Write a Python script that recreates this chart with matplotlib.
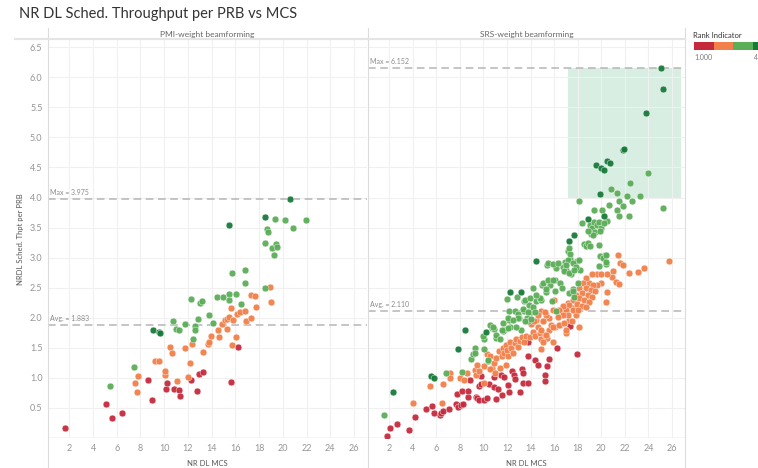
import matplotlib
matplotlib.use("Agg")
import matplotlib.pyplot as plt
from matplotlib.patches import Rectangle
from matplotlib.lines import Line2D

plt.rcParams['font.family'] = ['Lato', 'DejaVu Sans']

title = "NR DL Sched. Throughput per PRB vs MCS"
panels = ["PMI-weight beamforming", "SRS-weight beamforming"]
rank_labels = ["1.000", "4"]
rank_colors = ["#c42a3c", "#f2804a", "#5cad58", "#187a3a"]

# (MCS, throughput per PRB), per rank indicator
pmi_rank1 = [(1.61, 0.17), (5.06, 0.56), (5.6, 0.33), (6.44, 0.42), (8.66, 0.96), (8.94, 0.64),
             (10.12, 0.82), (10.26, 0.91), (10.82, 0.82), (11.27, 0.80), (11.33, 0.70), (12.25, 0.97),
             (12.73, 0.78), (12.96, 1.06), (13.24, 1.09), (15.62, 0.93), (16.24, 1.52)]
pmi_rank2 = [(7.51, 0.91), (7.73, 0.76), (7.81, 1.03), (9.22, 1.28), (9.58, 1.28), (10.03, 1.04),
             (10.08, 1.11), (10.51, 1.51), (10.62, 1.41), (11.04, 0.94), (11.78, 1.50), (12.0, 1.02),
             (12.2, 1.25), (12.37, 1.57), (13.24, 1.43), (13.71, 1.56), (13.8, 1.59), (13.94, 1.69),
             (14.5, 1.79), (14.64, 1.68), (14.84, 1.90), (15.12, 1.97), (15.29, 1.98), (15.46, 2.01),
             (15.26, 1.81), (15.62, 2.16), (15.68, 1.54), (15.76, 1.96), (16.02, 1.68), (16.13, 2.06),
             (16.35, 2.09), (16.83, 2.12), (16.89, 1.95), (17.28, 2.38), (17.28, 2.0), (17.67, 2.36),
             (17.73, 2.18), (18.88, 2.51), (18.97, 2.26)]
pmi_rank3 = [(5.43, 0.87), (7.48, 1.18), (10.76, 1.94), (10.99, 1.82), (11.21, 1.79), (11.72, 1.89),
             (12.22, 2.32), (12.42, 1.65), (12.56, 1.87), (12.59, 1.80), (12.81, 1.98), (12.98, 2.25),
             (13.18, 2.28), (13.74, 2.05), (14.08, 1.92), (14.47, 2.34), (14.92, 2.34), (15.43, 2.39),
             (15.46, 2.30), (15.71, 2.75), (16.04, 2.40), (16.44, 2.23), (16.80, 2.79), (16.83, 2.57),
             (18.49, 2.50), (18.54, 3.25), (18.63, 3.48), (18.74, 3.42), (19.08, 3.16), (19.42, 3.23),
             (19.47, 3.18), (19.27, 3.05), (19.30, 3.64), (20.17, 3.62), (21.97, 3.63), (20.82, 3.50)]
pmi_rank4 = [(9.05, 1.80), (9.56, 1.76), (9.67, 1.75), (15.48, 3.55), (18.46, 3.67), (20.62, 3.975)]

srs_rank1 = [(1.8, 0.04), (2.06, 0.17), (2.67, 0.23), (3.68, 0.14), (4.22, 0.35), (5.14, 0.49),
             (5.59, 0.54), (5.79, 0.41), (6.27, 0.39), (6.40, 0.41), (6.58, 0.45), (7.08, 0.49),
             (7.70, 0.57), (7.79, 0.73), (7.84, 0.52), (8.09, 0.55), (8.21, 0.79), (8.26, 0.56),
             (8.66, 0.69), (8.68, 0.79), (8.83, 0.96), (9.33, 0.69), (9.42, 0.66), (9.59, 0.87),
             (9.64, 0.64), (9.78, 0.90), (9.75, 1.03), (10.06, 0.64), (10.31, 0.66), (10.43, 0.89),
             (10.9, 1.01), (10.93, 0.85), (11.07, 0.65), (11.21, 0.81), (11.47, 1.04), (11.61, 0.72),
             (11.75, 1.02), (12.08, 0.88), (12.17, 0.76), (12.45, 1.12), (12.56, 1.05), (12.67, 0.98),
             (13.13, 0.77), (13.27, 1.15), (13.35, 1.08), (13.35, 0.91), (13.74, 1.60), (13.80, 0.91),
             (13.80, 1.36), (14.36, 1.30), (14.59, 1.22), (15.2, 1.05), (15.23, 0.95), (15.41, 1.20),
             (15.6, 1.31), (16.21, 1.50), (17.37, 1.87), (17.93, 1.40)]
srs_rank2 = [(4.02, 0.59), (5.45, 0.87), (6.45, 0.58), (6.55, 0.89), (7.2, 1.08), (7.2, 0.99),
             (8.01, 0.99), (8.57, 1.08), (8.32, 0.96), (9.3, 1.13), (9.36, 1.05), (9.42, 1.22),
             (10.03, 1.19), (10.03, 0.91), (10.26, 1.40), (10.54, 1.36), (10.71, 1.16), (10.9, 1.25),
             (11.1, 1.33), (11.32, 1.44), (11.55, 1.37), (11.66, 1.49), (11.78, 1.41), (11.89, 1.55),
             (12.0, 1.47), (12.12, 1.36), (12.23, 1.59), (12.34, 1.49), (12.5, 1.41), (12.67, 1.58),
             (12.79, 1.64), (12.96, 1.52), (13.07, 1.62), (13.3, 1.68), (13.47, 1.6), (13.63, 1.70),
             (13.91, 1.68), (14.08, 1.91), (14.19, 1.77), (14.36, 1.69), (14.48, 1.96), (14.65, 1.85),
             (14.81, 1.74), (14.92, 1.64), (15.09, 1.94), (15.26, 1.72), (15.43, 1.66), (15.6, 1.80),
             (15.77, 1.88), (16.1, 1.85), (16.38, 2.05), (16.5, 1.88), (16.72, 2.13), (17.0, 1.74),
             (17.17, 2.24), (17.23, 1.97), (17.56, 2.16), (17.85, 2.05), (14.9, 1.48), (15.04, 1.60),
             (15.88, 1.60), (9.59, 1.11), (10.54, 1.14), (11.38, 1.16), (11.95, 1.22), (10.96, 1.08),
             (21.44, 3.04), (21.62, 2.91), (21.87, 2.87), (22.34, 2.75), (23.08, 2.76), (21.0, 2.77),
             (20.94, 2.68), (20.51, 2.72), (21.22, 2.60), (21.5, 2.56), (20.51, 2.43), (20.4, 2.26),
             (19.67, 2.72), (19.98, 2.72), (19.96, 2.58), (19.67, 2.54), (19.17, 2.72), (18.97, 2.58),
             (19.31, 2.55), (18.74, 2.66), (18.41, 2.57), (18.69, 2.49), (19.12, 2.46), (19.48, 2.44),
             (18.13, 2.49), (18.36, 2.41), (18.83, 2.38), (19.25, 2.35), (17.85, 2.38), (18.13, 2.33),
             (18.55, 2.30), (18.97, 2.27), (17.56, 2.29), (17.9, 2.23), (18.36, 2.20), (18.69, 2.18),
             (17.28, 2.21), (17.56, 2.13), (17.99, 2.13), (17.0, 2.13), (17.14, 2.05), (16.72, 2.20),
             (16.44, 2.13), (16.72, 2.05), (16.3, 2.02), (15.88, 2.13), (16.02, 2.30), (15.6, 1.99),
             (15.32, 2.05), (15.04, 1.94), (15.88, 1.85), (16.44, 1.88), (16.86, 1.91), (17.51, 1.94),
             (18.13, 1.84), (17.0, 1.80), (15.32, 1.72), (14.9, 1.80), (25.72, 2.95), (23.61, 2.83),
             (14.9, 2.12), (15.2, 2.10), (14.05, 1.90), (14.6, 2.05), (14.3, 1.95)]
srs_rank3 = [(1.55, 0.39), (6.83, 1.08), (8.21, 1.10), (8.94, 1.31), (9.13, 1.39), (9.28, 1.50),
             (10.03, 1.48), (10.03, 1.64), (10.37, 1.28), (10.71, 1.83), (10.93, 1.82), (11.1, 1.67),
             (11.72, 1.79), (11.97, 2.31), (12.14, 1.97), (12.2, 2.12), (12.28, 1.84), (12.7, 2.12),
             (12.9, 2.07), (13.01, 2.00), (13.18, 1.80), (13.40, 2.11), (13.43, 2.28), (13.66, 2.00),
             (13.77, 1.95), (13.88, 2.22), (14.02, 2.10), (14.19, 2.49), (14.19, 2.18), (14.42, 2.28),
             (14.78, 2.31), (14.92, 2.29), (15.0, 2.55), (15.43, 2.88), (15.31, 2.43), (15.65, 2.54),
             (15.82, 2.28), (16.07, 2.63), (16.19, 2.83), (16.47, 2.58), (16.78, 2.84), (16.92, 2.92),
             (17.0, 2.79), (17.2, 3.11), (17.31, 2.98), (17.45, 2.73), (17.93, 2.95), (18.04, 2.58),
             (18.18, 2.80), (18.57, 3.22), (18.74, 3.19), (18.83, 3.24), (19.02, 3.20), (19.81, 3.21),
             (19.87, 3.02), (20.31, 3.05), (20.37, 2.90), (17.28, 2.41), (17.56, 2.48), (16.16, 2.12),
             (19.2, 3.41), (17.35, 3.06), (17.14, 2.96), (17.56, 2.91), (17.0, 2.88), (17.85, 2.85),
             (18.13, 2.96), (20.1, 2.99), (15.46, 2.91), (15.88, 2.90), (16.3, 2.91), (16.86, 2.78),
             (17.28, 2.74), (17.71, 2.80), (15.09, 2.57), (15.46, 2.63), (15.88, 2.62), (16.67, 2.49),
             (16.1, 2.45), (15.32, 2.48), (17.56, 2.44), (17.71, 2.35), (14.76, 2.33),
             (23.97, 4.40), (22.45, 4.24), (20.85, 4.14), (21.33, 4.08), (22.14, 4.03), (23.24, 4.03),
             (18.12, 3.95), (25.23, 3.83), (22.62, 3.95), (20.65, 3.88), (21.49, 3.94), (21.86, 3.86),
             (21.33, 3.79), (20.09, 3.80), (22.37, 3.70), (21.49, 3.69), (19.39, 3.79), (18.4, 3.57),
             (17.22, 3.16), (20.51, 3.61), (19.0, 3.55), (19.2, 3.5), (19.4, 3.6), (19.6, 3.55),
             (19.8, 3.6), (20.0, 3.5), (19.1, 3.4), (19.5, 3.42), (19.9, 3.45), (20.2, 3.58),
             (19.3, 3.38), (18.9, 3.45), (20.38, 3.05), (19.81, 2.86), (20.38, 2.92),
             (12.87, 2.34), (13.49, 2.29), (13.91, 2.33), (14.48, 2.38), (13.35, 2.14), (13.77, 2.10),
             (14.33, 2.10), (12.08, 1.99), (12.93, 1.99), (13.49, 1.94), (14.05, 1.98), (10.54, 1.88),
             (10.82, 1.85), (11.66, 1.78), (12.08, 1.83), (12.79, 1.85), (11.1, 1.72), (9.25, 1.42),
             (10.4, 1.30), (9.98, 1.69), (11.58, 1.79), (11.66, 1.91), (12.5, 1.96), (11.38, 1.64)]
srs_rank4 = [(2.28, 0.76), (5.57, 1.03), (5.76, 1.0), (7.81, 1.48), (8.46, 1.79), (10.23, 1.76),
             (12.28, 2.43), (13.15, 2.43), (14.42, 2.94), (17.25, 3.28), (17.7, 3.38), (18.91, 3.65),
             (20.26, 3.69), (19.89, 4.06), (19.56, 4.54), (20.0, 4.49), (20.23, 4.46), (20.51, 4.60),
             (20.74, 4.57), (21.83, 4.79), (21.92, 4.81), (23.8, 5.41), (25.23, 5.80), (25.09, 6.152)]

pmi_max, pmi_avg = 3.975, 1.883
srs_max, srs_avg = 6.152, 2.110
srs_box_x = (17.2, 26.8)

W, H = 758, 468
fig = plt.figure(figsize=(W / 100, H / 100), dpi=100)

def fx(px):
    return px / W

def fy(py):
    return 1 - py / H

top_px, bot_px = 40, 438
axes = [fig.add_axes([fx(48), fy(bot_px), fx(367 - 48), (bot_px - top_px) / H]),
        fig.add_axes([fx(368), fy(bot_px), fx(685 - 368), (bot_px - top_px) / H])]

panel_data = [[pmi_rank1, pmi_rank2, pmi_rank3, pmi_rank4],
              [srs_rank1, srs_rank2, srs_rank3, srs_rank4]]
ref_lines = [(pmi_max, pmi_avg), (srs_max, srs_avg)]

for i, ax in enumerate(axes):
    ax.set_xlim(0.2, 27.1)
    ax.set_ylim(0, 6.62)
    ax.set_xticks(range(2, 27, 2))
    ax.set_yticks([0.5 * k for k in range(1, 14)])
    ax.grid(True, color="#f0f0f0", linewidth=0.8, zorder=0)
    ax.tick_params(length=0, labelsize=6.5, labelcolor="#959595", pad=4)
    for s in ax.spines.values():
        s.set_visible(False)
    ax.axhline(0, color="#d6d6d6", linewidth=1, zorder=1)
    if i == 0:
        ax.set_ylabel("NRDL Sched. Thpt per PRB", fontsize=5.5, color="#555555", labelpad=4)
    else:
        ax.set_yticklabels([])
    ax.set_xlabel("NR DL MCS", fontsize=5.5, color="#555555", labelpad=5)

    mx, avg = ref_lines[i]
    if i == 1:
        ax.add_patch(Rectangle((srs_box_x[0], 4.0), srs_box_x[1] - srs_box_x[0], mx - 4.0,
                               facecolor="#2ca25f", alpha=0.18, edgecolor="none", zorder=1))
    for val, name in [(mx, "Max"), (avg, "Avg.")]:
        ax.axhline(val, color="#b5b5b5", linewidth=1.1, linestyle=(0, (5, 3)), zorder=2)
        ax.text(0.35, val + 0.05, f"{name} = {val:.3f}", fontsize=5, color="#8a8a8a",
                va="bottom", ha="left", zorder=3)

    for rank, pts in enumerate(panel_data[i]):
        xs = [p[0] for p in pts]
        ys = [p[1] for p in pts]
        ax.scatter(xs, ys, s=24, color=rank_colors[rank], edgecolors="white",
                   linewidths=0.3, alpha=0.95, zorder=4 + rank)

    # panel header
    fig.text(fx((48 + 367) / 2 if i == 0 else (368 + 685) / 2), fy(34), panels[i],
             fontsize=6, color="#666666", ha="center", va="center")

# pane separators and header band
for px in [48, 367.5, 685]:
    fig.add_artist(Line2D([fx(px), fx(px)], [fy(28), 0], color="#dcdcdc", linewidth=0.8))
fig.add_artist(Line2D([fx(15), fx(685)], [fy(38.5), fy(38.5)], color="#e4e4e4", linewidth=1.5))

fig.text(fx(19), fy(14), title, fontsize=10.5, color="#333333", ha="left", va="center")

# legend
fig.text(fx(693), fy(35), "Rank Indicator", fontsize=5.5, color="#333333", ha="left", va="center")
seg_w = 19.5
for k, c in enumerate(rank_colors):
    fig.add_artist(Rectangle((fx(694 + k * seg_w), fy(50)), fx(seg_w), 8 / H,
                             facecolor=c, edgecolor="none", transform=fig.transFigure))
fig.text(fx(694), fy(57), rank_labels[0], fontsize=5, color="#777777", ha="left", va="center")
fig.text(fx(754), fy(57), rank_labels[1], fontsize=5, color="#777777", ha="left", va="center")

fig.savefig("out.png", dpi=100)
